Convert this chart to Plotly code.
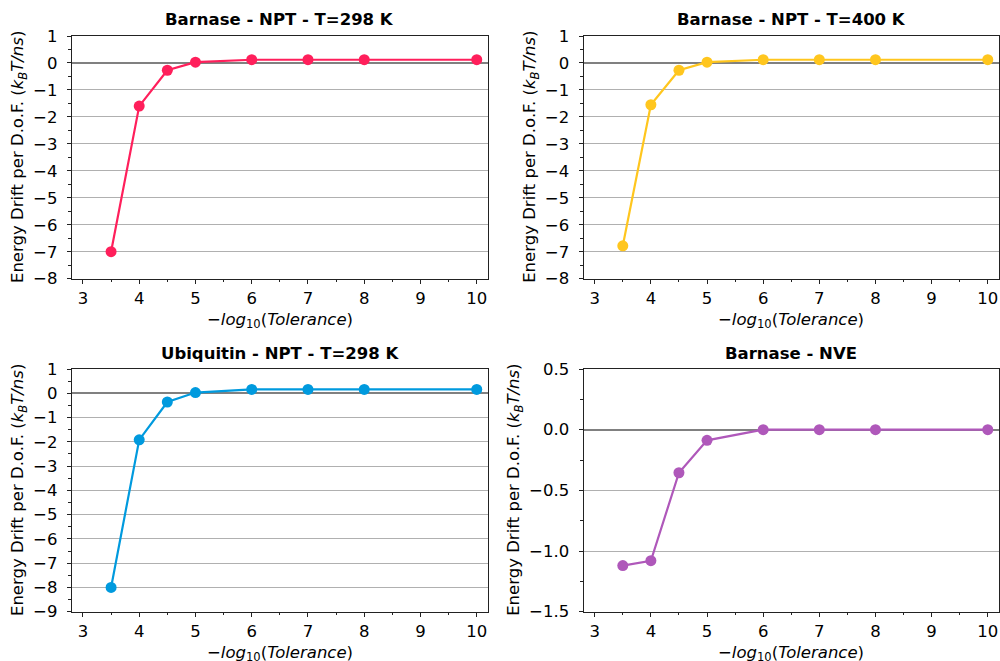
import plotly.graph_objects as go

tolerance = [3.5, 4, 4.5, 5, 6, 7, 8, 10]
barnase_298 = [-7.0, -1.6, -0.27, 0.03, 0.12, 0.12, 0.12, 0.12]
barnase_400 = [-6.78, -1.55, -0.27, 0.03, 0.12, 0.12, 0.12, 0.12]
ubiquitin_298 = [-8.0, -1.92, -0.36, 0.03, 0.16, 0.16, 0.16, 0.16]
barnase_nve = [-1.12, -1.08, -0.355, -0.088, 0.0, 0.0, 0.0, 0.0]

titles = ["Barnase - NPT - T=298 K", "Barnase - NPT - T=400 K",
          "Ubiquitin - NPT - T=298 K", "Barnase - NVE"]
x_label = "−<i>log</i><sub>10</sub>(<i>Tolerance</i>)"
y_label = "Energy Drift per D.o.F. (<i>k<sub>B</sub>T/ns</i>)"
series = [barnase_298, barnase_400, ubiquitin_298, barnase_nve]
colors = ["#FF1F5B", "#FFC61E", "#009ADE", "#AF58BA"]
y_ranges = [[-8, 1], [-8, 1], [-9, 1], [-1.5, 0.5]]
y_dticks = [1, 1, 1, 0.5]
y_minor = [0.5, 0.5, 0.5, 0.25]
y_formats = ["d", "d", "d", ".1f"]

W, H = 1000, 661
# pixel boxes (left, right, top, bottom)
boxes = [(71.7, 488, 36, 278.7), (583.5, 999, 36, 278.7),
         (71.7, 488, 369, 611.7), (583.5, 999, 369, 611.7)]
ylabel_offset = [53, 53, 53, 69]

fig = go.Figure()
font = "DejaVu Sans"
spine = "#222222"

for i in range(4):
    n = "" if i == 0 else str(i + 1)
    l, r, t, b = boxes[i]
    fig.add_trace(go.Scatter(
        x=tolerance, y=series[i], mode="lines+markers",
        line=dict(color=colors[i], width=2.2),
        marker=dict(color=colors[i], size=11),
        xaxis="x" + n, yaxis="y" + n, showlegend=False, cliponaxis=False))
    xa = dict(domain=[l / W, r / W], range=[2.8, 10.2], anchor="y" + n,
              automargin=False,
              tickmode="linear", tick0=3, dtick=1, ticks="outside", ticklen=4,
              tickcolor=spine, showline=True, linecolor=spine, linewidth=1,
              mirror=True, showgrid=False, zeroline=False,
              minor=dict(ticks="outside", tick0=3.5, dtick=1, ticklen=2.5, tickcolor=spine, showgrid=False),
              tickfont=dict(family=font, size=16.5, color="black"))
    ya = dict(domain=[1 - b / H, 1 - t / H], range=y_ranges[i], anchor="x" + n,
              automargin=False,
              tickmode="linear", tick0=0, dtick=y_dticks[i], tickformat=y_formats[i],
              ticks="outside", ticklen=4, tickcolor=spine, ticklabelstandoff=6,
              showline=True, linecolor=spine, linewidth=1, mirror=True,
              showgrid=True, gridcolor="#b0b0b0", gridwidth=1,
              zeroline=True, zerolinecolor="#808080", zerolinewidth=2,
              minor=dict(ticks="outside", tick0=0, dtick=y_minor[i], ticklen=2.5, tickcolor=spine, showgrid=False),
              tickfont=dict(family=font, size=16.5, color="black"))
    fig.layout["xaxis" + n] = xa
    fig.layout["yaxis" + n] = ya
    # subplot title
    fig.add_annotation(text="<b>" + titles[i] + "</b>", x=(l + r) / 2 / W, y=1 - (t - 16) / H,
                       xref="paper", yref="paper", showarrow=False,
                       font=dict(family=font, size=16.5, color="black"),
                       xanchor="center", yanchor="middle")
    # x axis title
    fig.add_annotation(text=x_label, x=(l + r) / 2 / W, y=1 - (b + 42) / H,
                       xref="paper", yref="paper", showarrow=False,
                       font=dict(family=font, size=16.5, color="black"),
                       xanchor="center", yanchor="middle")
    # y axis title
    fig.add_annotation(text=y_label, x=(l - ylabel_offset[i]) / W, y=1 - (t + b) / 2 / H,
                       xref="paper", yref="paper", showarrow=False, textangle=-90,
                       font=dict(family=font, size=16.5, color="black"),
                       xanchor="center", yanchor="middle")

fig.update_layout(width=W, height=H, margin=dict(l=0, r=0, t=0, b=0, autoexpand=False),
                  plot_bgcolor="white", paper_bgcolor="white")
post = ("document.documentElement.style.margin='0';document.body.style.margin='0';"
        "document.body.style.overflow='hidden';")
fig.write_html("out.html", post_script=post, config={"displayModeBar": False})
